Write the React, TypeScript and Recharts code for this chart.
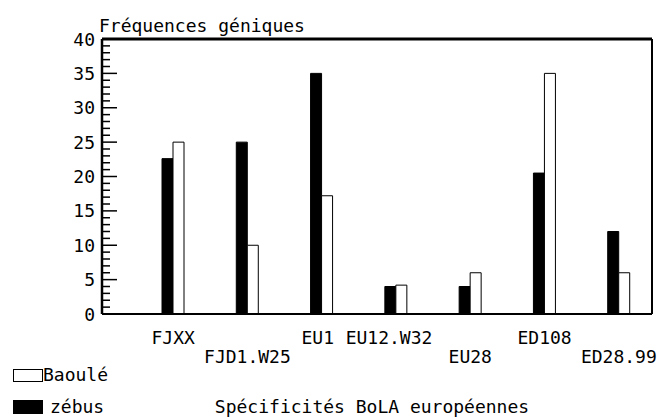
import React from 'react';
import { BarChart, Bar, XAxis, YAxis, Legend } from 'recharts';

const categories = ['FJXX', 'FJD1.W25', 'EU1', 'EU12.W32', 'EU28', 'ED108', 'ED28.99'];
const zebus = [22.6, 25, 35, 4, 4, 20.5, 12];
const baoule = [25, 10, 17.2, 4.2, 6, 35, 6];
const yLabelTicks = [0, 5, 10, 15, 20, 25, 30, 35, 40];
const yAllTicks = [0, 1, 2, 3, 4, 5, 6, 7, 8, 9, 10, 11, 12, 13, 14, 15, 16, 17, 18, 19, 20, 21, 22, 23, 24, 25, 26, 27, 28, 29, 30, 31, 32, 33, 34, 35, 36, 37, 38, 39, 40];
const labelRow = [0, 1, 0, 0, 1, 0, 1];
const labelShift = [0, 0, -4, -7, 0, 0, 0];

const data = categories.map((c, i) => ({ cat: c, zebus: zebus[i], baoule: baoule[i] }));

const FONT = '"DejaVu Sans Mono", monospace';

const YTick = (props: any) => {
  const { x, y, payload } = props;
  const v = payload.value;
  const major = yLabelTicks.includes(v);
  return (
    <g>
      <line x1={x} x2={x + (major ? 15 : 8)} y1={y} y2={y} stroke="#000" strokeWidth={1.5} />
      {major && (
        <text x={x - 7} y={y + 6.5} textAnchor="end" fontFamily={FONT} fontSize={18} fill="#000">
          {v}
        </text>
      )}
    </g>
  );
};

const XTick = (props: any) => {
  const { x, y, payload, index } = props;
  const i = typeof index === 'number' ? index : categories.indexOf(payload.value);
  const row = labelRow[i] || 0;
  return (
    <text
      x={x + (labelShift[i] || 0)}
      y={y + 30 + row * 19}
      textAnchor="middle"
      fontFamily={FONT}
      fontSize={18}
      fill="#000"
    >
      {payload.value}
    </text>
  );
};

const LegendContent = () => (
  <div style={{ fontFamily: FONT, fontSize: 18, color: '#000', lineHeight: '18px' }}>
    <div style={{ display: 'flex', alignItems: 'center', height: 18 }}>
      <span style={{ display: 'inline-block', width: 28, height: 11, border: '1px solid #000', background: '#fff' }} />
      <span style={{ marginLeft: 0 }}>Baoulé</span>
    </div>
    <div style={{ display: 'flex', alignItems: 'center', height: 18, marginTop: 14 }}>
      <span style={{ display: 'inline-block', width: 30, height: 14, background: '#000' }} />
      <span style={{ marginLeft: 7 }}>zébus</span>
    </div>
  </div>
);

const TitleLabel = (props: any) => {
  const vb = props.viewBox || { x: 102, y: 39 };
  return (
    <text x={vb.x - 3} y={vb.y - 6} fontFamily={FONT} fontSize={18} fill="#000">
      Fréquences géniques
    </text>
  );
};

export default function App() {
  return (
    <div style={{ position: 'absolute', left: 0, top: 0, background: '#fff' }}>
      <BarChart
        width={659}
        height={418}
        data={data}
        margin={{ top: 38, right: 6, bottom: 0, left: 0 }}
        barGap={0}
        barSize={11}
      >
        <XAxis
          dataKey="cat"
          height={104}
          padding={{ left: 34, right: -4 }}
          axisLine={{ stroke: '#000', strokeWidth: 2 }}
          tickLine={false}
          tickSize={0}
          tickMargin={0}
          interval={0}
          tick={<XTick />}
          label={{
            value: 'Spécificités BoLA européennes',
            position: 'insideBottom',
            offset: 5,
            dx: -5,
            fill: '#000',
            fontFamily: FONT,
            fontSize: 18,
          }}
        />
        <XAxis
          xAxisId="frameTop"
          dataKey="cat"
          orientation="top"
          height={1}
          tick={false}
          tickLine={false}
          axisLine={{ stroke: '#000', strokeWidth: 3 }}
          label={{ value: 'Fréquences géniques', content: <TitleLabel /> }}
        />
        <YAxis
          width={102}
          domain={[0, 40]}
          ticks={yAllTicks}
          interval={0}
          tickLine={false}
          tickSize={0}
          tickMargin={0}
          axisLine={{ stroke: '#000', strokeWidth: 2.5 }}
          tick={<YTick />}
        />
        <YAxis
          yAxisId="frameRight"
          orientation="right"
          width={1}
          domain={[0, 40]}
          tick={false}
          tickLine={false}
          axisLine={{ stroke: '#000', strokeWidth: 2 }}
        />
        <Legend
          layout="vertical"
          align="center"
          verticalAlign="middle"
          wrapperStyle={{ left: 13, top: 366, width: 120, height: 50 }}
          content={<LegendContent />}
        />
        <Bar dataKey="zebus" name="zébus" fill="#000" stroke="#000" strokeWidth={1} isAnimationActive={false} />
        <Bar dataKey="baoule" name="Baoulé" fill="#fff" stroke="#000" strokeWidth={1} isAnimationActive={false} />
      </BarChart>
    </div>
  );
}
